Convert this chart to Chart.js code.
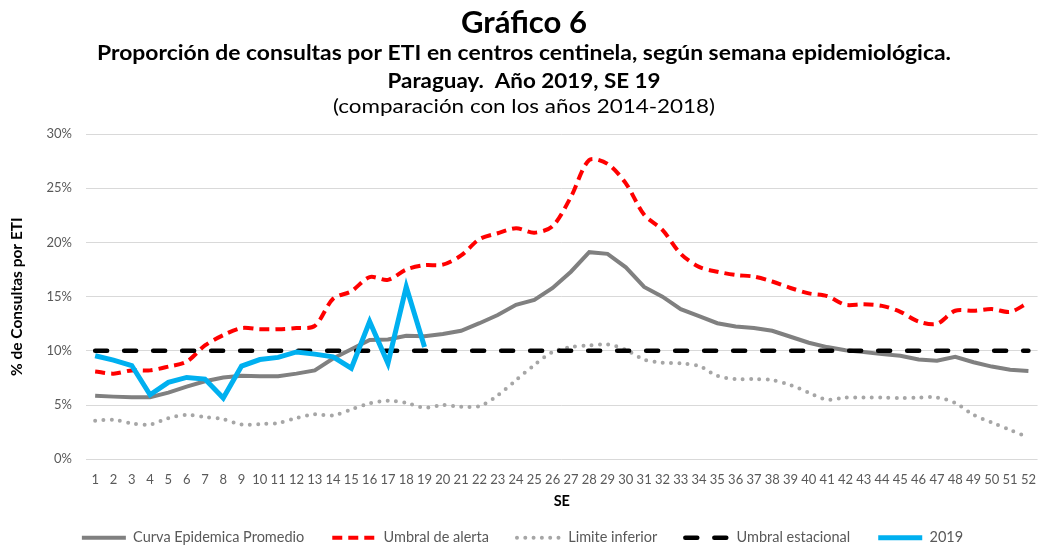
<!DOCTYPE html>
<html><head><meta charset="utf-8">
<script src="https://cdn.jsdelivr.net/npm/chart.js@4.4.0/dist/chart.umd.min.js"></script>
<style>html,body{margin:0;padding:0;background:#fff}</style>
</head><body>
<canvas id="c" width="1049" height="548"></canvas>
<script>
const titleLines = [
  'Gráfico 6',
  'Proporción de consultas por ETI en centros centinela, según semana epidemiológica.',
  'Paraguay.  Año 2019, SE 19',
  '(comparación con los años 2014-2018)'
];
const weeks = ['1','2','3','4','5','6','7','8','9','10','11','12','13','14','15','16','17','18','19','20','21','22','23','24','25','26','27','28','29','30','31','32','33','34','35','36','37','38','39','40','41','42','43','44','45','46','47','48','49','50','51','52'];
const yTicks = [0, 5, 10, 15, 20, 25, 30];
const curvaPromedio = [5.87,5.78,5.72,5.72,6.15,6.7,7.2,7.55,7.7,7.65,7.65,7.9,8.2,9.3,10.15,11.0,11.05,11.4,11.35,11.55,11.85,12.55,13.3,14.25,14.7,15.8,17.3,19.1,18.95,17.7,15.9,15.0,13.85,13.2,12.55,12.25,12.1,11.85,11.3,10.75,10.35,10.05,9.9,9.7,9.55,9.2,9.1,9.45,8.95,8.55,8.25,8.15];
const umbralAlerta = [8.1,7.9,8.2,8.2,8.55,9.0,10.5,11.45,12.1,12.0,12.0,12.1,12.3,14.8,15.5,16.8,16.55,17.5,17.9,17.95,18.8,20.3,20.85,21.3,20.9,21.5,24.2,27.6,27.25,25.45,22.55,21.15,18.95,17.75,17.3,17.0,16.85,16.4,15.8,15.3,15.05,14.25,14.3,14.15,13.6,12.7,12.5,13.7,13.7,13.85,13.6,14.45];
const limiteInferior = [3.55,3.65,3.3,3.2,3.8,4.1,3.9,3.7,3.2,3.25,3.35,3.8,4.15,4.05,4.6,5.15,5.4,5.2,4.75,5.0,4.85,4.9,5.9,7.3,8.7,9.9,10.35,10.5,10.6,10.1,9.2,8.9,8.85,8.6,7.7,7.4,7.4,7.3,6.85,6.15,5.5,5.7,5.7,5.7,5.65,5.7,5.7,5.2,4.1,3.4,2.7,2.0];
const umbralEstacional = [10,10,10,10,10,10,10,10,10,10,10,10,10,10,10,10,10,10,10,10,10,10,10,10,10,10,10,10,10,10,10,10,10,10,10,10,10,10,10,10,10,10,10,10,10,10,10,10,10,10,10,10];
const serie2019 = [9.55,9.15,8.65,5.95,7.1,7.55,7.4,5.65,8.6,9.2,9.4,9.9,9.7,9.45,8.4,12.7,8.85,15.9,10.35];
const seriesNames = ['Curva Epidemica Promedio','Umbral de alerta','Limite inferior','Umbral estacional','2019'];

const FONT = 'Lato, "Open Sans", sans-serif';

const titlePlugin = {
  id: 'titleBlock',
  afterDraw(chart) {
    const ctx = chart.ctx;
    const specs = [
      {w: 'bold', s: 29, y: 33, width: 126},
      {w: 'bold', s: 18, y: 59.5, width: 854},
      {w: 'bold', s: 18, y: 87.5, width: 273},
      {w: 'normal', s: 18, y: 113, width: 382}
    ];
    ctx.save();
    ctx.fillStyle = '#000';
    ctx.textAlign = 'center';
    ctx.textBaseline = 'alphabetic';
    titleLines.forEach((t, i) => {
      const sp = specs[i];
      ctx.font = sp.w + ' ' + sp.s + 'px ' + FONT;
      let m = ctx.measureText(t).width;
      const ratio = sp.width / m;
      const size = sp.s * Math.sqrt(ratio);
      ctx.font = sp.w + ' ' + size + 'px ' + FONT;
      m = ctx.measureText(t).width;
      ctx.save();
      ctx.translate(524, sp.y);
      ctx.scale(sp.width / m, 1);
      ctx.fillText(t, 0, 0);
      ctx.restore();
    });
    ctx.restore();
  }
};

new Chart(document.getElementById('c'), {
  type: 'line',
  data: {
    labels: weeks,
    datasets: [
      {label: seriesNames[0], data: curvaPromedio, borderColor: '#808080', backgroundColor: '#808080', borderWidth: 4, tension: 0, order: 4, pointRadius: 0},
      {label: seriesNames[1], data: umbralAlerta, borderColor: '#FF0000', backgroundColor: '#FF0000', borderWidth: 4, borderDash: [10, 6], tension: 0.3, order: 3, pointRadius: 0},
      {label: seriesNames[2], data: limiteInferior, borderColor: '#A6A6A6', backgroundColor: '#A6A6A6', borderWidth: 4, borderDash: [0, 8.3], borderCapStyle: 'round', tension: 0.3, order: 2, pointRadius: 0},
      {label: seriesNames[3], data: umbralEstacional, borderColor: '#000000', backgroundColor: '#000000', borderWidth: 4.5, borderDash: [12, 17], borderCapStyle: 'round', tension: 0, order: 1, pointRadius: 0},
      {label: seriesNames[4], data: serie2019, borderColor: '#00B0F0', backgroundColor: '#00B0F0', borderWidth: 5, tension: 0, order: 0, pointRadius: 0, borderJoinStyle: 'miter'}
    ]
  },
  options: {
    responsive: false,
    animation: false,
    devicePixelRatio: 1,
    layout: {padding: {top: 134, left: 0, right: 4, bottom: 0}},
    plugins: {
      title: {display: false},
      tooltip: {enabled: false},
      legend: {
        position: 'bottom',
        maxHeight: 45.5,
        labels: {
          usePointStyle: true,
          pointStyle: 'line',
          pointStyleWidth: 44,
          padding: 28,
          color: '#595959',
          font: {family: FONT, size: 14.5},
          sort: (a, b) => a.datasetIndex - b.datasetIndex,
          generateLabels(chart) {
            const items = Chart.defaults.plugins.legend.labels.generateLabels(chart);
            return items.map(it => {
              const ds = chart.data.datasets[it.datasetIndex];
              it.lineDash = ds.borderDash || [];
              it.lineWidth = ds.borderWidth;
              it.lineCap = ds.borderCapStyle || 'butt';
              it.strokeStyle = ds.borderColor;
              return it;
            });
          }
        }
      }
    },
    scales: {
      x: {
        offset: true,
        grid: {display: false, drawTicks: false},
        border: {display: false},
        ticks: {autoSkip: false, maxRotation: 0, minRotation: 0, padding: 13, color: '#595959', font: {family: FONT, size: 13}},
        title: {display: true, text: 'SE', color: '#000', font: {family: FONT, size: 14.5, weight: 'bold'}, padding: {top: 0, bottom: -8}},
        afterFit(scale) { scale.height = 43.2; }
      },
      y: {
        min: 0, max: 30,
        afterBuildTicks(scale) { scale.ticks = yTicks.map(v => ({value: v})); },
        grid: {color: '#D9D9D9', lineWidth: 1, drawTicks: false},
        border: {display: false},
        ticks: {padding: 14, color: '#595959', font: {family: FONT, size: 13}, callback: v => v + '%'},
        title: {display: true, text: '% de Consultas por ETI', color: '#000', font: {family: FONT, size: 15.5, weight: 'bold'}, padding: {top: 8, bottom: 0}},
        afterFit(scale) { scale.width = 86; }
      }
    }
  },
  plugins: [titlePlugin]
});
</script>
</body></html>
